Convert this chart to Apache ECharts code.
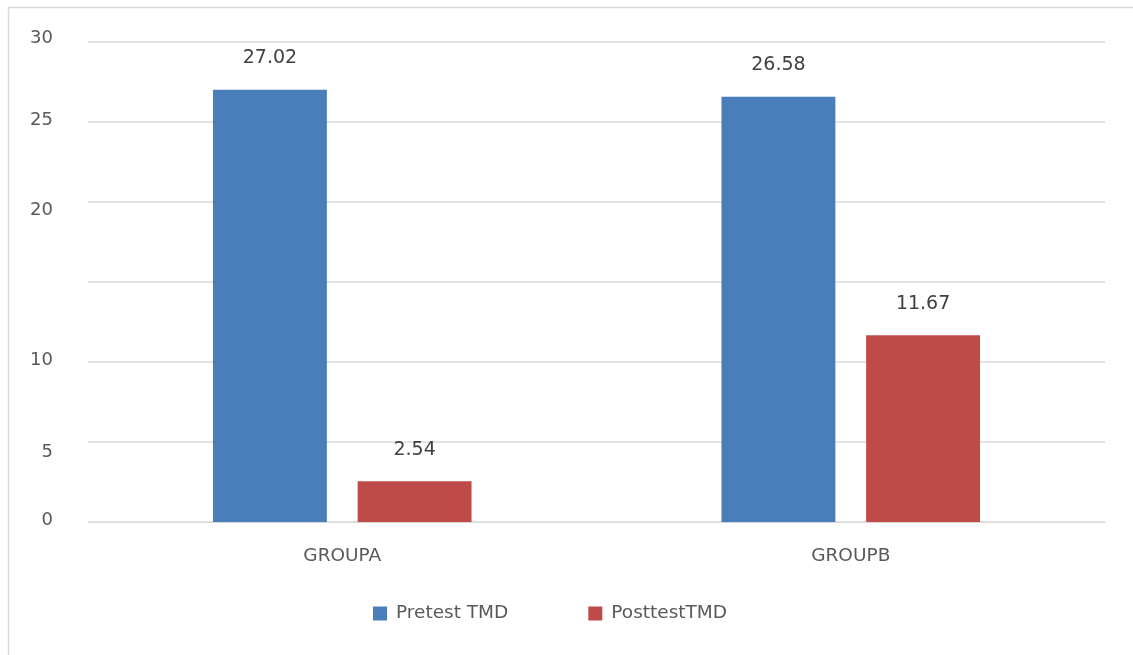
<!DOCTYPE html>
<html><head><meta charset="utf-8">
<script src="https://cdn.jsdelivr.net/npm/echarts@6/dist/echarts.min.js"></script>
<style>html,body{margin:0;padding:0;background:#fff}#c{width:1133px;height:655px}</style>
</head><body><div id="c"></div>
<script>
const categories = ['GROUPA', 'GROUPB'];
const pretest = [27.02, 26.58];
const posttest = [2.54, 11.67];
const seriesNames = ['Pretest TMD', 'PosttestTMD'];
const yTickLabels = {0: '0', 5: '5', 10: '10', 15: '', 20: '20', 25: '25', 30: '30'};
const yLabelShift = {0: -2, 5: 10, 10: -2, 15: 0, 20: 8, 25: -2, 30: -4};

const font = 'DejaVu Sans';
const chart = echarts.init(document.getElementById('c'));
const rich = {};
Object.keys(yLabelShift).forEach(k => {
  const s = yLabelShift[k];
  rich['s' + k] = {fontFamily: font, fontSize: 18, color: '#595959',
    padding: s >= 0 ? [2 * s, 0, 0, 0] : [0, 0, -2 * s, 0]};
});
chart.setOption({
  animation: false,
  backgroundColor: '#fff',
  graphic: [{type: 'rect', shape: {x: 8.5, y: 7.5, width: 1140, height: 660},
    style: {fill: 'none', stroke: '#d9d9d9', lineWidth: 1.5}}],
  grid: {left: 88, right: 28, top: 42, bottom: 133},
  legend: {
    bottom: 27, left: 368, itemWidth: 14, itemHeight: 14, itemGap: 80,
    icon: 'rect',
    textStyle: {fontFamily: font, fontSize: 18.5, color: '#595959', padding: [0, 0, 0, 4]},
    data: seriesNames
  },
  xAxis: {
    type: 'category', data: categories,
    axisLine: {lineStyle: {color: '#d9d9d9'}},
    axisTick: {show: false},
    axisLabel: {fontFamily: font, fontSize: 18.5, color: '#595959', margin: 25}
  },
  yAxis: {
    type: 'value', min: 0, max: 30, interval: 5,
    axisLine: {show: false}, axisTick: {show: false},
    splitLine: {lineStyle: {color: '#d9d9d9', width: 1.5}},
    axisLabel: {margin: 35, fontFamily: font, fontSize: 18, color: '#595959',
      formatter: v => yTickLabels[v] ? '{s' + v + '|' + yTickLabels[v] + '}' : '',
      rich: rich}
  },
  series: [
    {name: seriesNames[0], type: 'bar', data: pretest, barWidth: '22.4%', barGap: '27%',
      itemStyle: {color: '#4A7EBB'},
      label: {show: true, position: 'top', distance: 22, fontFamily: font, fontSize: 19, color: '#404040',
        formatter: p => p.value.toFixed(2)}},
    {name: seriesNames[1], type: 'bar', data: posttest, barWidth: '22.4%', barGap: '27%',
      itemStyle: {color: '#BE4B48'},
      label: {show: true, position: 'top', distance: 22, fontFamily: font, fontSize: 19, color: '#404040',
        formatter: p => p.value.toFixed(2)}}
  ]
});
</script></body></html>
